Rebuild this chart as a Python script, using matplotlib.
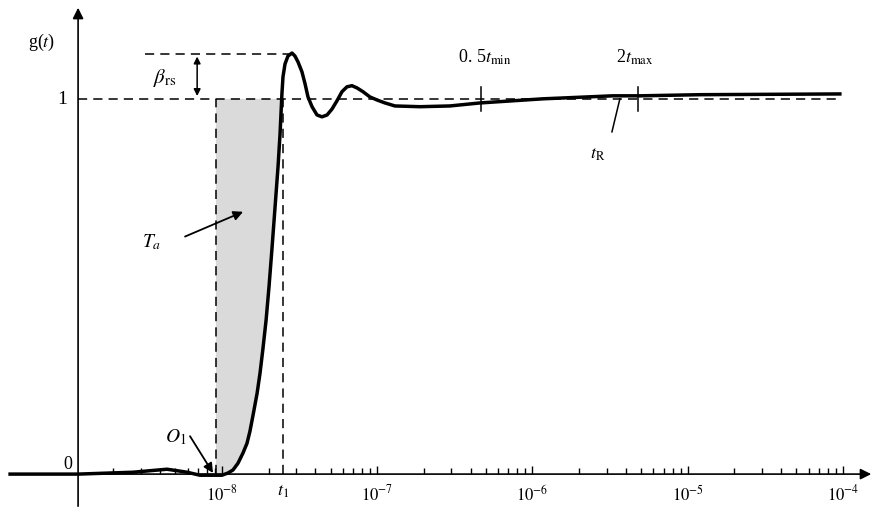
import numpy as np
import matplotlib
matplotlib.use("Agg")
import matplotlib.pyplot as plt
from matplotlib.ticker import FixedLocator, NullFormatter

plt.rcParams['font.family'] = ['Liberation Serif', 'DejaVu Serif']
plt.rcParams['mathtext.fontset'] = 'stix'

# step response g(t) (log10 of t in seconds)
log_t = [-9.365, -8.927, -8.573, -8.354, -8.225, -8.142, -8.058, -8.000,
         -7.961, -7.929, -7.897, -7.865, -7.839, -7.820, -7.800, -7.774,
         -7.755, -7.736, -7.716, -7.697, -7.678, -7.659, -7.639, -7.626,
         -7.620, -7.614, -7.607, -7.594, -7.575, -7.549, -7.530, -7.510,
         -7.485, -7.465, -7.446, -7.420, -7.388, -7.356, -7.323, -7.291,
         -7.259, -7.227, -7.195, -7.163, -7.130, -7.092, -7.047, -7.002,
         -6.950, -6.886, -6.725, -6.532, -6.339, -5.933, -5.482, -5.308,
         -4.921, -4.020]
g_vals = [0.000, 0.000, 0.005, 0.013, 0.005, -0.003, -0.003, -0.003,
          0.003, 0.011, 0.029, 0.056, 0.082, 0.114, 0.157, 0.215,
          0.269, 0.335, 0.410, 0.500, 0.601, 0.707, 0.819, 0.907,
          0.960, 1.013, 1.059, 1.093, 1.114, 1.122, 1.114, 1.098,
          1.072, 1.040, 1.005, 0.979, 0.957, 0.952, 0.957, 0.973,
          0.995, 1.019, 1.032, 1.035, 1.029, 1.019, 1.005, 0.997,
          0.989, 0.981, 0.979, 0.981, 0.989, 1.000, 1.008, 1.008,
          1.011, 1.013]

# marked times (log10 t)
log_ta = -8.039      # left edge of shaded area
log_t1 = -7.607      # t1
log_tmin = -6.332    # 0.5 t_min
log_tmax = -5.321    # 2 t_max
log_yaxis = -8.927   # where the g axis stands
overshoot = 1.12

decades = [-8, -7, -6, -5, -4]
tick_labels = [r'$10^{-8}$', r'$10^{-7}$', r'$10^{-6}$', r'$10^{-5}$', r'$10^{-4}$']

t = 10.0 ** np.array(log_t)
g = np.array(g_vals)
ta, t1 = 10 ** log_ta, 10 ** log_t1
ty = 10 ** log_yaxis

fig = plt.figure(figsize=(8.74, 5.10), dpi=100)
ax = fig.add_axes([0, 0, 1, 1])
ax.set_xscale('log')
ax.set_xlim(10 ** -9.43, 10 ** -3.80)
ax.set_ylim(-0.093, 1.266)

# shaded area between t_a, the curve and g = 1
inside = (t > ta) & (t <= t1)
poly_x = [ta, ta] + list(t[inside]) + [t1]
poly_y = [1.0, -0.003] + list(g[inside]) + [1.0]
ax.fill(poly_x, poly_y, color='#dadada', lw=0, zorder=1)

# dashed guide lines
dash = dict(color='k', lw=1.1, ls=(0, (6, 4)), zorder=2)
ax.plot([ty, 10 ** -4.02], [1, 1], **dash)
ax.plot([10 ** -8.496, 10 ** -7.561], [overshoot, overshoot], **dash)
ax.plot([ta, ta], [0, 1], **dash)
ax.plot([t1, t1], [0, 1], **dash)

# the response curve
ax.plot(t, g, color='k', lw=2.5, zorder=3, solid_joinstyle='round')

# axes with arrows
ax.annotate('', xy=(10 ** -3.80, 0), xytext=(10 ** -9.38, 0),
            arrowprops=dict(arrowstyle='-|>', color='k', lw=1.2, mutation_scale=16))
ax.annotate('', xy=(ty, 1.25), xytext=(ty, -0.093),
            arrowprops=dict(arrowstyle='-|>', color='k', lw=1.2, mutation_scale=16))

for s in ax.spines.values():
    s.set_visible(False)
ax.spines['bottom'].set_position(('data', 0))
ax.xaxis.set_major_locator(FixedLocator([10.0 ** d for d in decades]))
ax.set_xticklabels(tick_labels)
minor = [k * 10.0 ** d for d in range(-9, -4) for k in range(2, 10)]
ax.xaxis.set_minor_locator(FixedLocator(minor))
ax.xaxis.set_minor_formatter(NullFormatter())
ax.tick_params(axis='x', which='major', direction='in', length=6, width=1, pad=7, labelsize=12)
ax.tick_params(axis='x', which='minor', direction='in', length=4, width=1)
ax.set_yticks([])

# small ticks on the curve
ax.plot([10 ** log_tmin] * 2, [0.968, 1.032], color='k', lw=1.1)
ax.plot([10 ** log_tmax] * 2, [0.968, 1.032], color='k', lw=1.1)

# overshoot double arrow
ax.annotate('', xy=(10 ** -8.160, overshoot), xytext=(10 ** -8.160, 1.0),
            arrowprops=dict(arrowstyle='<|-|>', color='k', lw=1.1, mutation_scale=10))

# texts
ax.text(10 ** -9.159, 1.152, r'g($\mathit{t}$)', fontsize=13, ha='center', va='center')
ax.text(10 ** -9.030, 1.0, '1', fontsize=14, ha='center', va='center')
ax.text(10 ** -8.991, 0.029, '0', fontsize=13, ha='center', va='center')
ax.text(10 ** -8.367, 1.059, r'$\beta_{\rm rs}$', fontsize=15, ha='center', va='center')
ax.text(10 ** -6.306, 1.114, r'0. 5$t_{\rm min}$', fontsize=13, ha='center', va='center')
ax.text(10 ** -5.340, 1.114, r'2$t_{\rm max}$', fontsize=13, ha='center', va='center')
ax.text(10 ** -5.579, 0.854, r'$t_{\rm R}$', fontsize=13, ha='center', va='center')
ax.plot([10 ** -5.488, 10 ** -5.437], [0.912, 1.0], color='k', lw=1.1)
ax.text(10 ** log_t1, -0.045, r'$t_1$', fontsize=13, ha='center', va='center')

ax.text(10 ** -8.451, 0.620, r'$T_a$', fontsize=14, ha='center', va='center')
ax.annotate('', xy=(10 ** -7.864, 0.699), xytext=(10 ** -8.238, 0.633),
            arrowprops=dict(arrowstyle='-|>', color='k', lw=1.3, mutation_scale=14,
                            shrinkA=0, shrinkB=0))
ax.text(10 ** -8.300, 0.100, r'$O_1$', fontsize=14, ha='center', va='center')
ax.annotate('', xy=(10 ** -8.058, 0.003), xytext=(10 ** -8.206, 0.101),
            arrowprops=dict(arrowstyle='-|>', color='k', lw=1.3, mutation_scale=14,
                            shrinkA=0, shrinkB=0))

fig.savefig('out.png', dpi=100)
